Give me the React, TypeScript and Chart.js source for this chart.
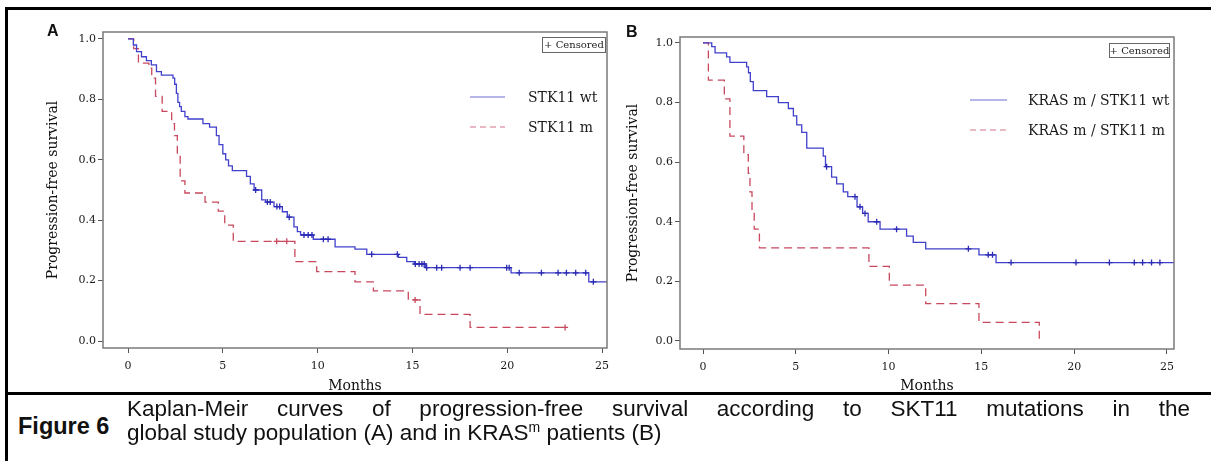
import React, { useEffect, useRef } from 'react';
import { Chart, registerables } from 'chart.js';

Chart.register(...registerables);

// ---------- texts ----------
const xTitle = 'Months';
const yTitle = 'Progression-free survival';
const censoredLabel = '+ Censored';
const namesA = ['STK11 wt', 'STK11 m'];
const namesB = ['KRAS m / STK11 wt', 'KRAS m / STK11 m'];
const xTickValues = [0, 5, 10, 15, 20, 25];
const yTickValues = [0, 0.2, 0.4, 0.6, 0.8, 1.0];

// ---------- Panel A: STK11 wt ----------
const timesAwt = [0, 0.28, 0.45, 0.71, 0.97, 1.23, 1.5, 1.76, 2.37, 2.46, 2.55, 2.63, 2.72, 2.81, 3.0, 3.16, 3.95, 4.3, 4.66, 4.8, 5.0, 5.15, 5.3, 5.5, 6.25, 6.45, 6.65, 7.05, 7.26, 7.7, 8.14, 8.4, 8.75, 8.93, 9.1, 9.77, 10.92, 11.97, 12.59, 14.26, 14.7, 15.1, 15.7, 20.2, 24.3, 25.6];
const survAwt = [1.0, 0.98, 0.958, 0.941, 0.928, 0.914, 0.892, 0.88, 0.87, 0.85, 0.82, 0.79, 0.776, 0.76, 0.743, 0.735, 0.72, 0.708, 0.68, 0.65, 0.62, 0.6, 0.58, 0.564, 0.545, 0.52, 0.5, 0.467, 0.46, 0.445, 0.428, 0.41, 0.378, 0.362, 0.351, 0.337, 0.312, 0.304, 0.287, 0.277, 0.263, 0.255, 0.243, 0.226, 0.196, 0.196];
const censorAwt = [6.73, 7.35, 7.5, 7.85, 8.0, 8.5, 9.28, 9.5, 9.7, 10.3, 10.55, 12.85, 14.2, 15.15, 15.35, 15.5, 15.62, 15.75, 16.28, 16.54, 17.51, 18.04, 19.97, 20.1, 20.63, 21.8, 22.68, 23.12, 23.61, 24.14, 24.54];

// ---------- Panel A: STK11 m ----------
const timesAm = [0, 0.3, 0.55, 1.1, 1.25, 1.45, 1.8, 2.3, 2.45, 2.6, 2.75, 3.0, 4.06, 4.76, 5.1, 5.55, 8.8, 9.95, 11.97, 12.94, 14.78, 15.4, 18.04, 23.05];
const survAm = [1.0, 0.968, 0.92, 0.903, 0.87, 0.81, 0.76, 0.72, 0.68, 0.62, 0.53, 0.49, 0.46, 0.43, 0.384, 0.33, 0.263, 0.23, 0.196, 0.166, 0.136, 0.088, 0.045, 0.045];
const censorAm = [7.84, 8.37, 15.14, 23.05];

// ---------- Panel B: KRAS m / STK11 wt ----------
const timesBwt = [0, 0.47, 0.65, 1.27, 1.45, 2.35, 2.45, 2.55, 2.71, 3.43, 4.06, 4.6, 4.87, 5.05, 5.32, 5.59, 6.48, 6.6, 6.93, 7.2, 7.56, 7.8, 8.3, 8.6, 8.9, 9.54, 10.97, 11.33, 12.0, 14.87, 15.79, 25.6];
const survBwt = [1.0, 0.988, 0.967, 0.953, 0.935, 0.92, 0.9, 0.87, 0.84, 0.82, 0.8, 0.78, 0.755, 0.725, 0.7, 0.647, 0.62, 0.585, 0.55, 0.527, 0.5, 0.484, 0.45, 0.428, 0.4, 0.375, 0.352, 0.331, 0.309, 0.289, 0.263, 0.263];
const censorBwt = [6.66, 8.19, 8.46, 8.73, 9.36, 10.43, 14.3, 15.37, 15.6, 16.6, 20.1, 21.9, 23.24, 23.69, 24.17, 24.62];

// ---------- Panel B: KRAS m / STK11 m ----------
const timesBm = [0, 0.29, 1.15, 1.45, 2.2, 2.44, 2.53, 2.64, 2.76, 3.04, 8.94, 10.04, 12.0, 14.87, 18.12];
const survBm = [1.0, 0.875, 0.8125, 0.6875, 0.625, 0.5625, 0.5, 0.4375, 0.375, 0.3125, 0.25, 0.1875, 0.125, 0.0625, 0.0];
const censorBm: number[] = [];

const BLUE = '#4040cc';
const BLUE_MARK = '#2a2ab4';
const RED = '#c8485e';

function survAt(times: number[], surv: number[], t: number) {
  let s = surv[0];
  for (let i = 0; i < times.length; i++) {
    if (times[i] <= t) s = surv[i];
    else break;
  }
  return s;
}

const kmPlugin = {
  id: 'kmDecor',
  afterDraw(chart: any, _args: any, opts: any) {
    const { ctx, chartArea: a } = chart;
    ctx.save();
    // frame
    ctx.strokeStyle = '#7a7a7a';
    ctx.lineWidth = 1.5;
    ctx.strokeRect(a.left, a.top, a.right - a.left, a.bottom - a.top);
    // censored box
    const b = opts.box;
    ctx.lineWidth = 1;
    ctx.strokeStyle = '#666';
    ctx.strokeRect(a.right + b.x0 + 0.5, a.top + b.y0 + 0.5, b.x1 - b.x0, b.y1 - b.y0);
    ctx.fillStyle = '#222';
    ctx.font = '10px "DejaVu Serif"';
    ctx.textAlign = 'center';
    ctx.textBaseline = 'middle';
    ctx.fillText(censoredLabel, a.right + (b.x0 + b.x1) / 2 + 0.5, a.top + (b.y0 + b.y1) / 2 + 1);
    // legend
    const L = opts.legend;
    L.entries.forEach((e: any, i: number) => {
      const y = a.top + L.y0 + i * L.dy;
      ctx.beginPath();
      ctx.setLineDash(e.dash);
      ctx.strokeStyle = e.color;
      ctx.lineWidth = 1.2;
      ctx.moveTo(a.right + L.lineX0, y);
      ctx.lineTo(a.right + L.lineX1, y);
      ctx.stroke();
      ctx.setLineDash([]);
      ctx.fillStyle = '#1a1a1a';
      ctx.font = '14px "DejaVu Serif"';
      ctx.textAlign = 'left';
      ctx.textBaseline = 'middle';
      ctx.fillText(e.label, a.right + L.textX, y + 1);
    });
    ctx.restore();
  },
};

type PanelCfg = {
  wt: { t: number[]; s: number[]; c: number[]; name: string };
  m: { t: number[]; s: number[]; c: number[]; name: string };
  xMin: number; xMax: number; yMin: number; yMax: number;
  padTop: number; padRight: number; yWidth: number; xHeight: number;
  yTitlePad: number; xTitlePad: number;
  box: any; legend: any;
};

function makeConfig(p: PanelCfg): any {
  const line = (d: any, color: string, dash: number[]) => ({
    type: 'line',
    data: d.t.map((t: number, i: number) => ({ x: t, y: d.s[i] })),
    stepped: true,
    borderColor: color,
    borderWidth: 1.3,
    borderDash: dash,
    pointRadius: 0,
    fill: false,
    order: 2,
  });
  const marks = (d: any, color: string) => ({
    type: 'line',
    data: d.c.map((t: number) => ({ x: t, y: survAt(d.t, d.s, t) })),
    showLine: false,
    pointStyle: 'cross',
    pointRadius: 3,
    borderColor: color,
    backgroundColor: color,
    pointBorderWidth: 1.3,
    order: 1,
  });
  return {
    type: 'line',
    data: {
      datasets: [
        line(p.wt, BLUE, []),
        line(p.m, RED, [8, 5]),
        marks(p.wt, BLUE_MARK),
        marks(p.m, RED),
      ],
    },
    options: {
      animation: false,
      responsive: false,
      devicePixelRatio: 1,
      layout: { padding: { left: 0, top: p.padTop, right: p.padRight, bottom: 0 } },
      plugins: {
        legend: { display: false },
        tooltip: { enabled: false },
        kmDecor: { box: p.box, legend: p.legend },
      },
      scales: {
        x: {
          type: 'linear',
          min: p.xMin,
          max: p.xMax,
          afterBuildTicks: (s: any) => { s.ticks = xTickValues.map((v) => ({ value: v })); },
          afterFit: (s: any) => { s.height = p.xHeight; },
          ticks: {
            callback: (v: any) => String(v),
            font: { family: 'DejaVu Serif', size: 11 },
            color: '#1a1a1a',
            padding: 7,
            maxRotation: 0,
          },
          grid: { display: true, drawOnChartArea: false, drawTicks: true, tickLength: 5, tickColor: '#555' },
          border: { display: false },
          title: {
            display: true,
            text: xTitle,
            font: { family: 'DejaVu Serif', size: 14 },
            color: '#111',
            padding: { top: 0, bottom: p.xTitlePad },
          },
        },
        y: {
          type: 'linear',
          min: p.yMin,
          max: p.yMax,
          afterBuildTicks: (s: any) => { s.ticks = yTickValues.map((v) => ({ value: v })); },
          afterFit: (s: any) => { s.width = p.yWidth; },
          ticks: {
            callback: (v: any) => Number(v).toFixed(1),
            font: { family: 'DejaVu Serif', size: 11 },
            color: '#1a1a1a',
            padding: 2,
          },
          grid: { display: true, drawOnChartArea: false, drawTicks: true, tickLength: 5, tickColor: '#555' },
          border: { display: false },
          title: {
            display: true,
            text: yTitle,
            font: { family: 'DejaVu Serif', size: 14 },
            color: '#111',
            padding: { top: p.yTitlePad, bottom: 0 },
          },
        },
      },
    },
    plugins: [kmPlugin],
  };
}

const cfgA: PanelCfg = {
  wt: { t: timesAwt, s: survAwt, c: censorAwt, name: namesA[0] },
  m: { t: timesAm, s: survAm, c: censorAm, name: namesA[1] },
  xMin: -1.32, xMax: 25.26, yMin: -0.023, yMax: 1.023,
  padTop: 22, padRight: 13, yWidth: 95, xHeight: 48,
  yTitlePad: 37, xTitlePad: 1,
  box: { x0: -65, x1: -2, y0: 5, y1: 20 },
  legend: {
    lineX0: -137, lineX1: -102, textX: -79, y0: 65, dy: 30,
    entries: [
      { label: namesA[0], color: '#6e6ed8', dash: [] },
      { label: namesA[1], color: '#d27486', dash: [6, 4] },
    ],
  },
};

const cfgB: PanelCfg = {
  wt: { t: timesBwt, s: survBwt, c: censorBwt, name: namesB[0] },
  m: { t: timesBm, s: survBm, c: censorBm, name: namesB[1] },
  xMin: -1.24, xMax: 25.38, yMin: -0.027, yMax: 1.02,
  padTop: 27, padRight: 37, yWidth: 60, xHeight: 47,
  yTitlePad: 5, xTitlePad: 1,
  box: { x0: -65, x1: -5, y0: 6, y1: 20 },
  legend: {
    lineX0: -204, lineX1: -167, textX: -146, y0: 63, dy: 30,
    entries: [
      { label: namesB[0], color: '#6e6ed8', dash: [] },
      { label: namesB[1], color: '#d27486', dash: [6, 4] },
    ],
  },
};

function KMPanel({ cfg, left, width }: { cfg: PanelCfg; left: number; width: number }) {
  const ref = useRef<HTMLCanvasElement | null>(null);
  useEffect(() => {
    if (!ref.current) return;
    const chart = new Chart(ref.current, makeConfig(cfg));
    return () => chart.destroy();
  }, [cfg]);
  return (
    <canvas
      ref={ref}
      width={width}
      height={386}
      style={{ position: 'absolute', left, top: 10, width, height: 386 }}
    />
  );
}

export default function App() {
  return (
    <div
      style={{
        position: 'fixed', left: 0, top: 0, width: 1211, height: 461,
        background: '#fff', overflow: 'hidden', fontFamily: '"Liberation Sans", Arial, sans-serif',
      }}
    >
      <KMPanel cfg={cfgA} left={8} width={612} />
      <KMPanel cfg={cfgB} left={620} width={591} />
      {/* borders */}
      <div style={{ position: 'absolute', left: 5, top: 7, width: 1206, height: 3, background: '#000' }} />
      <div style={{ position: 'absolute', left: 5, top: 7, width: 3, height: 454, background: '#000' }} />
      <div style={{ position: 'absolute', left: 5, top: 392, width: 1206, height: 3, background: '#000' }} />
      {/* panel letters */}
      <div style={{ position: 'absolute', left: 47, top: 23, fontSize: 16, lineHeight: '16px', fontWeight: 700, color: '#111' }}>A</div>
      <div style={{ position: 'absolute', left: 626, top: 24, fontSize: 16, lineHeight: '16px', fontWeight: 700, color: '#111' }}>B</div>
      {/* caption */}
      <div style={{ position: 'absolute', left: 18, top: 414, fontSize: 23.5, lineHeight: '24px', fontWeight: 700, color: '#111' }}>Figure 6</div>
      <div style={{ position: 'absolute', left: 127, top: 397, width: 1063, fontSize: 22.5, lineHeight: '24px', color: '#111', textAlign: 'justify', textAlignLast: 'justify', whiteSpace: 'nowrap' as any }}>
        Kaplan-Meir curves of progression-free survival according to SKT11 mutations in the
      </div>
      <div style={{ position: 'absolute', left: 127, top: 421, fontSize: 22.5, lineHeight: '24px', color: '#111' }}>
        global study population (A) and in KRAS<sup style={{ fontSize: 14, lineHeight: 0 }}>m</sup> patients (B)
      </div>
    </div>
  );
}
